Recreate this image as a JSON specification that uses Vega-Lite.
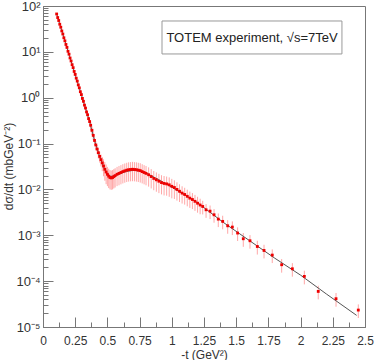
{
  "$schema": "https://vega.github.io/schema/vega-lite/v6.json",
  "autosize": {"type": "none"},
  "padding": {"left": 43, "top": 6, "right": 9, "bottom": 33},
  "width": 322,
  "height": 321,
  "background": "white",
  "config": {
    "view": {"stroke": "#777", "strokeWidth": 1},
    "font": "Liberation Sans"
  },
  "resolve": {"axis": {"x": "independent", "y": "independent"}},
  "datasets": {
    "pts": [
      {"t": 0.106, "v": 67.0, "e": 3.3},
      {"t": 0.114, "v": 56.0, "e": 2.8},
      {"t": 0.122, "v": 48.3, "e": 2.4},
      {"t": 0.130, "v": 40.1, "e": 2.0},
      {"t": 0.138, "v": 34.5, "e": 1.7},
      {"t": 0.146, "v": 28.6, "e": 1.4},
      {"t": 0.154, "v": 24.5, "e": 1.2},
      {"t": 0.162, "v": 20.3, "e": 1.0},
      {"t": 0.170, "v": 17.4, "e": 0.87},
      {"t": 0.178, "v": 14.5, "e": 0.73},
      {"t": 0.186, "v": 12.5, "e": 0.62},
      {"t": 0.194, "v": 10.3, "e": 0.52},
      {"t": 0.202, "v": 8.9, "e": 0.44},
      {"t": 0.210, "v": 7.35, "e": 0.37},
      {"t": 0.218, "v": 6.32, "e": 0.31},
      {"t": 0.226, "v": 5.25, "e": 0.27},
      {"t": 0.234, "v": 4.52, "e": 0.22},
      {"t": 0.242, "v": 3.74, "e": 0.19},
      {"t": 0.250, "v": 3.22, "e": 0.16},
      {"t": 0.258, "v": 2.67, "e": 0.14},
      {"t": 0.266, "v": 2.30, "e": 0.11},
      {"t": 0.274, "v": 1.90, "e": 0.10},
      {"t": 0.282, "v": 1.64, "e": 0.08},
      {"t": 0.290, "v": 1.35, "e": 0.07},
      {"t": 0.298, "v": 1.17, "e": 0.06},
      {"t": 0.306, "v": 0.965, "e": 0.08},
      {"t": 0.314, "v": 0.835, "e": 0.066},
      {"t": 0.322, "v": 0.690, "e": 0.056},
      {"t": 0.330, "v": 0.595, "e": 0.047},
      {"t": 0.338, "v": 0.490, "e": 0.040},
      {"t": 0.346, "v": 0.425, "e": 0.034},
      {"t": 0.354, "v": 0.350, "e": 0.028},
      {"t": 0.362, "v": 0.302, "e": 0.024},
      {"t": 0.370, "v": 0.251, "e": 0.05},
      {"t": 0.380, "v": 0.195, "e": 0.04},
      {"t": 0.390, "v": 0.151, "e": 0.03},
      {"t": 0.400, "v": 0.117, "e": 0.025},
      {"t": 0.410, "v": 0.0933, "e": 0.02},
      {"t": 0.420, "v": 0.0759, "e": 0.017},
      {"t": 0.430, "v": 0.0631, "e": 0.016},
      {"t": 0.440, "v": 0.0525, "e": 0.014},
      {"t": 0.450, "v": 0.0447, "e": 0.013},
      {"t": 0.460, "v": 0.0380, "e": 0.013},
      {"t": 0.470, "v": 0.0324, "e": 0.013},
      {"t": 0.480, "v": 0.0275, "e": 0.012},
      {"t": 0.490, "v": 0.0240, "e": 0.011},
      {"t": 0.500, "v": 0.0214, "e": 0.0096},
      {"t": 0.510, "v": 0.0195, "e": 0.0088},
      {"t": 0.520, "v": 0.0182, "e": 0.0082},
      {"t": 0.530, "v": 0.0178, "e": 0.0080},
      {"t": 0.540, "v": 0.0182, "e": 0.0082},
      {"t": 0.550, "v": 0.0191, "e": 0.0086},
      {"t": 0.560, "v": 0.0200, "e": 0.0090},
      {"t": 0.575, "v": 0.0214, "e": 0.0096},
      {"t": 0.590, "v": 0.0224, "e": 0.0101},
      {"t": 0.605, "v": 0.0234, "e": 0.0105},
      {"t": 0.620, "v": 0.0245, "e": 0.011},
      {"t": 0.635, "v": 0.0254, "e": 0.0114},
      {"t": 0.650, "v": 0.0263, "e": 0.0118},
      {"t": 0.665, "v": 0.0269, "e": 0.0121},
      {"t": 0.680, "v": 0.0272, "e": 0.0122},
      {"t": 0.695, "v": 0.0275, "e": 0.0124},
      {"t": 0.710, "v": 0.0272, "e": 0.0122},
      {"t": 0.725, "v": 0.0269, "e": 0.0121},
      {"t": 0.740, "v": 0.0263, "e": 0.0118},
      {"t": 0.755, "v": 0.0257, "e": 0.0116},
      {"t": 0.770, "v": 0.0245, "e": 0.011},
      {"t": 0.785, "v": 0.0234, "e": 0.0105},
      {"t": 0.800, "v": 0.0224, "e": 0.0101},
      {"t": 0.820, "v": 0.0209, "e": 0.0094},
      {"t": 0.840, "v": 0.0191, "e": 0.0086},
      {"t": 0.860, "v": 0.0174, "e": 0.0078},
      {"t": 0.880, "v": 0.0162, "e": 0.0073},
      {"t": 0.900, "v": 0.0151, "e": 0.0068},
      {"t": 0.920, "v": 0.0141, "e": 0.0063},
      {"t": 0.940, "v": 0.0135, "e": 0.0061},
      {"t": 0.960, "v": 0.0132, "e": 0.0059},
      {"t": 0.980, "v": 0.0126, "e": 0.0057},
      {"t": 1.000, "v": 0.0117, "e": 0.0053},
      {"t": 1.020, "v": 0.0110, "e": 0.0048},
      {"t": 1.040, "v": 0.0100, "e": 0.0043},
      {"t": 1.060, "v": 0.00912, "e": 0.0038},
      {"t": 1.080, "v": 0.00832, "e": 0.0034},
      {"t": 1.100, "v": 0.00776, "e": 0.0031},
      {"t": 1.120, "v": 0.00708, "e": 0.0028},
      {"t": 1.140, "v": 0.00646, "e": 0.0025},
      {"t": 1.160, "v": 0.00603, "e": 0.0023},
      {"t": 1.180, "v": 0.00550, "e": 0.0021},
      {"t": 1.200, "v": 0.00501, "e": 0.0019},
      {"t": 1.220, "v": 0.00457, "e": 0.0017},
      {"t": 1.240, "v": 0.00425, "e": 0.0014},
      {"t": 1.266, "v": 0.0036, "e": 0.0012},
      {"t": 1.297, "v": 0.00336, "e": 0.0011},
      {"t": 1.328, "v": 0.0028, "e": 0.00092},
      {"t": 1.361, "v": 0.00225, "e": 0.00074},
      {"t": 1.395, "v": 0.00201, "e": 0.00066},
      {"t": 1.434, "v": 0.00161, "e": 0.00053},
      {"t": 1.470, "v": 0.00151, "e": 0.0005},
      {"t": 1.511, "v": 0.00112, "e": 0.00037},
      {"t": 1.555, "v": 0.00084, "e": 0.00028},
      {"t": 1.607, "v": 0.00076, "e": 0.00025},
      {"t": 1.664, "v": 0.00057, "e": 0.00019},
      {"t": 1.716, "v": 0.000467, "e": 0.000154},
      {"t": 1.780, "v": 0.00037, "e": 0.000122},
      {"t": 1.853, "v": 0.000228, "e": 0.000075},
      {"t": 1.936, "v": 0.000186, "e": 0.000061},
      {"t": 2.029, "v": 0.000127, "e": 0.000042},
      {"t": 2.137, "v": 0.0000597, "e": 0.0000197},
      {"t": 2.275, "v": 0.0000414, "e": 0.0000137},
      {"t": 2.448, "v": 0.0000234, "e": 0.0000077}
    ],
    "fit": [
      {"t": 0.106, "v": 67.0},
      {"t": 0.30, "v": 1.109},
      {"t": 0.36, "v": 0.312},
      {"t": 0.40, "v": 0.117},
      {"t": 0.44, "v": 0.0513},
      {"t": 0.48, "v": 0.0269},
      {"t": 0.50, "v": 0.0219},
      {"t": 0.52, "v": 0.0195},
      {"t": 0.54, "v": 0.0193},
      {"t": 0.56, "v": 0.0200},
      {"t": 0.60, "v": 0.0221},
      {"t": 0.65, "v": 0.0248},
      {"t": 0.70, "v": 0.0260},
      {"t": 0.75, "v": 0.0254},
      {"t": 0.80, "v": 0.0229},
      {"t": 0.90, "v": 0.0162},
      {"t": 1.00, "v": 0.0112},
      {"t": 1.10, "v": 0.00759},
      {"t": 1.20, "v": 0.00513},
      {"t": 1.40, "v": 0.00191},
      {"t": 1.60, "v": 0.000776},
      {"t": 1.80, "v": 0.000316},
      {"t": 2.00, "v": 0.000135},
      {"t": 2.20, "v": 0.0000525},
      {"t": 2.435, "v": 0.0000179}
    ]
  },
  "layer": [
    {
      "data": {"name": "pts"},
      "mark": {"type": "errorbar", "color": "#ff0000", "opacity": 0.35, "thickness": 1},
      "encoding": {
        "x": {
          "field": "t", "type": "quantitative",
          "scale": {"domain": [0, 2.5], "nice": false, "zero": false},
          "axis": {
            "orient": "bottom",
            "title": "-t (GeV²)",
            "values": [0, 0.25, 0.5, 0.75, 1, 1.25, 1.5, 1.75, 2, 2.25, 2.5],
            "labelExpr": "'' + datum.value",
            "tickSize": -10,
            "labelPadding": 18,
            "labelFlush": false,
            "labelOverlap": false,
            "grid": false,
            "domainColor": "#777",
            "tickColor": "#777",
            "labelColor": "#333",
            "labelFontSize": 12,
            "titleColor": "#333",
            "titleFontSize": 12,
            "titleFontWeight": "normal",
            "titlePadding": 3
          }
        },
        "y": {
          "field": "v", "type": "quantitative",
          "scale": {"type": "log", "domain": [0.00001, 100], "nice": false},
          "axis": {
            "orient": "left",
            "title": "dσ/dt (mbGeV⁻²)",
            "values": [0.00001, 0.0001, 0.001, 0.01, 0.1, 1, 10, 100],
            "labelExpr": "'10' + (datum.value < 1 ? '⁻' : '') + ['⁰','¹','²','³','⁴','⁵'][abs(round(log(datum.value)/LN10))]",
            "tickSize": -10,
            "labelPadding": 13,
            "labelFlush": false,
            "labelOverlap": false,
            "grid": false,
            "domainColor": "#777",
            "tickColor": "#777",
            "labelColor": "#333",
            "labelFontSize": 13,
            "titleColor": "#333",
            "titleFontSize": 12,
            "titleFontWeight": "normal",
            "titleX": -28,
            "titleY": 160,
            "titleBaseline": "bottom",
            "titleAngle": 270
          }
        },
        "yError": {"field": "e"}
      }
    },
    {
      "data": {"name": "fit"},
      "mark": {"type": "line", "color": "#555", "strokeWidth": 1},
      "encoding": {
        "x": {
          "field": "t", "type": "quantitative",
          "axis": {
            "orient": "bottom",
            "title": null,
            "values": [0.125, 0.375, 0.625, 0.875, 1.125, 1.375, 1.625, 1.875, 2.125, 2.375],
            "labels": false,
            "domain": false,
            "grid": false,
            "tickSize": -5,
            "tickColor": "#777"
          }
        },
        "y": {
          "field": "v", "type": "quantitative",
          "axis": {
            "orient": "left",
            "title": null,
            "values": [0.00002, 0.00003, 0.00004, 0.00005, 0.00006, 0.00007, 0.00008, 0.00009,
                       0.0002, 0.0003, 0.0004, 0.0005, 0.0006, 0.0007, 0.0008, 0.0009,
                       0.002, 0.003, 0.004, 0.005, 0.006, 0.007, 0.008, 0.009,
                       0.02, 0.03, 0.04, 0.05, 0.06, 0.07, 0.08, 0.09,
                       0.2, 0.3, 0.4, 0.5, 0.6, 0.7, 0.8, 0.9,
                       2, 3, 4, 5, 6, 7, 8, 9,
                       20, 30, 40, 50, 60, 70, 80, 90],
            "labels": false,
            "domain": false,
            "grid": false,
            "tickSize": -5,
            "tickColor": "#777"
          }
        }
      }
    },
    {
      "data": {"name": "pts"},
      "mark": {"type": "square", "color": "#ee0000", "size": 8, "opacity": 1},
      "encoding": {
        "x": {"field": "t", "type": "quantitative", "axis": null},
        "y": {"field": "v", "type": "quantitative", "axis": null}
      }
    },
    {
      "data": {"values": [{}]},
      "mark": {"type": "rect", "fill": "white", "stroke": "#999", "strokeWidth": 1},
      "encoding": {
        "x": {"datum": 0.924, "type": "quantitative", "axis": null},
        "x2": {"datum": 2.321},
        "y": {"datum": 47.1, "type": "quantitative", "axis": null},
        "y2": {"datum": 9.0}
      }
    },
    {
      "data": {"values": [{"label": "TOTEM experiment, √s=7TeV"}]},
      "mark": {"type": "text", "fontSize": 13, "color": "#222", "align": "center", "baseline": "middle"},
      "encoding": {
        "x": {"datum": 1.623, "type": "quantitative", "axis": null},
        "y": {"datum": 20.1, "type": "quantitative", "axis": null},
        "text": {"field": "label"}
      }
    }
  ]
}
